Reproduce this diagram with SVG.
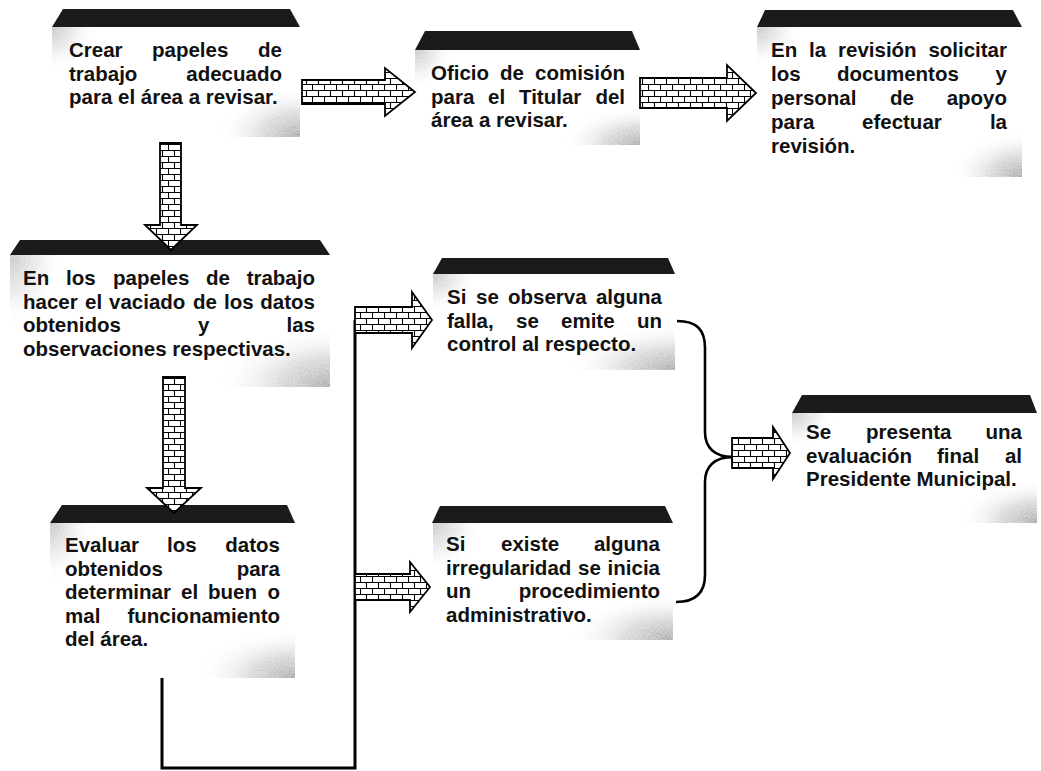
<svg xmlns="http://www.w3.org/2000/svg" width="1041" height="771" viewBox="0 0 1041 771">
  <style>
    .t { font-family: "Liberation Sans", Arial, Helvetica, sans-serif; font-weight: bold; font-size: 20.5px; fill: #111; }
    .e { text-anchor: end; }
    .band { fill: #1b1b1b; }
    .tl { fill: url(#fadeTL); filter: url(#grain); }
    .br { fill: url(#fadeBR); filter: url(#grain); }
    .arrow { fill: url(#brick); stroke: #000; stroke-width: 1.8; stroke-linejoin: miter; }
    .wire { fill: none; stroke: #000; stroke-width: 3; }
    .brace { fill: none; stroke: #000; stroke-width: 2.6; }
  </style>
  <defs>
    <pattern id="brick" width="12" height="12" patternUnits="userSpaceOnUse">
      <rect width="12" height="12" fill="#fff"/>
      <path d="M0 0.5H12M0 6.5H12M0.5 0.5V6.5M6.5 6.5V12" stroke="#000" stroke-width="1.1"/>
    </pattern>
    <radialGradient id="fadeTL" cx="0" cy="0" r="1">
      <stop offset="0" stop-color="#9a9a9a" stop-opacity="0.75"/>
      <stop offset="0.5" stop-color="#bdbdbd" stop-opacity="0.4"/>
      <stop offset="1" stop-color="#fff" stop-opacity="0"/>
    </radialGradient>
    <radialGradient id="fadeBR" cx="1" cy="1" r="1">
      <stop offset="0" stop-color="#888" stop-opacity="0.9"/>
      <stop offset="0.45" stop-color="#aaa" stop-opacity="0.55"/>
      <stop offset="1" stop-color="#fff" stop-opacity="0"/>
    </radialGradient>
    <!-- soft speckle for the grey corner shading -->
    <filter id="grain" x="0" y="0" width="1" height="1">
      <feTurbulence type="fractalNoise" baseFrequency="0.75" numOctaves="2" seed="7" result="n"/>
      <feColorMatrix in="n" type="matrix" values="0 0 0 0 0  0 0 0 0 0  0 0 0 0 0  0.9 0 0 0 0.25" result="a"/>
      <feComposite in="SourceGraphic" in2="a" operator="in"/>
    </filter>
  </defs>

  <rect width="1041" height="771" fill="#fff"/>

  <!-- Crear papeles de trabajo -->
  <g id="crear">
    <rect class="tl" x="52" y="27" width="45" height="45"/>
    <rect class="br" x="215" y="85" width="85" height="52"/>
    <path class="band" d="M63,9 H290 L300,27 H52 Z"/>
    <text class="t" y="57"><tspan x="69">Crear</tspan><tspan x="152">papeles</tspan><tspan class="e" x="282">de</tspan></text>
    <text class="t" y="80.5"><tspan x="69">trabajo</tspan><tspan class="e" x="282">adecuado</tspan></text>
    <text class="t" x="69" y="104">para el área a revisar.</text>
  </g>

  <!-- Oficio de comisión -->
  <g id="oficio">
    <rect class="tl" x="415" y="50" width="40" height="40"/>
    <rect class="br" x="560" y="105" width="80" height="40"/>
    <path class="band" d="M425,31 H632 L640,50 H415 Z"/>
    <text class="t" y="80"><tspan x="431">Oficio</tspan><tspan x="500">de</tspan><tspan class="e" x="625">comisión</tspan></text>
    <text class="t" y="103.5"><tspan x="431">para</tspan><tspan x="488">el</tspan><tspan x="519">Titular</tspan><tspan class="e" x="625">del</tspan></text>
    <text class="t" x="431" y="127">área a revisar.</text>
  </g>

  <!-- En la revisión solicitar -->
  <g id="revision">
    <rect class="tl" x="757" y="27" width="45" height="40"/>
    <rect class="br" x="950" y="130" width="72" height="47"/>
    <path class="band" d="M765,10 H1013 L1022,27 H757 Z"/>
    <text class="t" y="57"><tspan x="771">En</tspan><tspan x="809">la</tspan><tspan x="838">revisión</tspan><tspan class="e" x="1007">solicitar</tspan></text>
    <text class="t" y="81"><tspan x="771">los</tspan><tspan x="837">documentos</tspan><tspan class="e" x="1007">y</tspan></text>
    <text class="t" y="105"><tspan x="771">personal</tspan><tspan x="890">de</tspan><tspan class="e" x="1007">apoyo</tspan></text>
    <text class="t" y="129"><tspan x="771">para</tspan><tspan x="862">efectuar</tspan><tspan class="e" x="1007">la</tspan></text>
    <text class="t" x="771" y="153">revisión.</text>
  </g>

  <!-- En los papeles de trabajo -->
  <g id="vaciado">
    <rect class="tl" x="10" y="255" width="55" height="75"/>
    <rect class="br" x="215" y="325" width="115" height="62"/>
    <path class="band" d="M20,240 H320 L330,255 H10 Z"/>
    <text class="t" y="285"><tspan x="23">En</tspan><tspan x="66">los</tspan><tspan x="113">papeles</tspan><tspan x="206">de</tspan><tspan class="e" x="315">trabajo</tspan></text>
    <text class="t" y="308.5"><tspan x="23">hacer</tspan><tspan x="85">el</tspan><tspan x="109">vaciado</tspan><tspan x="193">de</tspan><tspan x="224">los</tspan><tspan class="e" x="315">datos</tspan></text>
    <text class="t" y="332"><tspan x="23">obtenidos</tspan><tspan x="198">y</tspan><tspan class="e" x="315">las</tspan></text>
    <text class="t" x="23" y="355.5">observaciones respectivas.</text>
  </g>

  <!-- Evaluar los datos obtenidos -->
  <g id="evaluar">
    <rect class="tl" x="50" y="523" width="45" height="60"/>
    <rect class="br" x="195" y="628" width="100" height="50"/>
    <path class="band" d="M62,505 H287 L295,523 H50 Z"/>
    <text class="t" y="552"><tspan x="65">Evaluar</tspan><tspan x="167">los</tspan><tspan class="e" x="280">datos</tspan></text>
    <text class="t" y="575.5"><tspan x="65">obtenidos</tspan><tspan class="e" x="280">para</tspan></text>
    <text class="t" y="599"><tspan x="65">determinar</tspan><tspan x="181">el</tspan><tspan x="208">buen</tspan><tspan class="e" x="280">o</tspan></text>
    <text class="t" y="622.5"><tspan x="65">mal</tspan><tspan class="e" x="280">funcionamiento</tspan></text>
    <text class="t" x="65" y="646">del área.</text>
  </g>

  <!-- Si se observa alguna falla -->
  <g id="falla">
    <rect class="tl" x="433" y="274" width="45" height="40"/>
    <rect class="br" x="565" y="322" width="110" height="48"/>
    <path class="band" d="M442,258 H668 L675,274 H433 Z"/>
    <text class="t" y="304"><tspan x="447">Si</tspan><tspan x="476">se</tspan><tspan x="508">observa</tspan><tspan class="e" x="662">alguna</tspan></text>
    <text class="t" y="327.5"><tspan x="447">falla,</tspan><tspan x="516">se</tspan><tspan x="561">emite</tspan><tspan class="e" x="662">un</tspan></text>
    <text class="t" x="447" y="351">control al respecto.</text>
  </g>

  <!-- Si existe alguna irregularidad -->
  <g id="irregularidad">
    <rect class="tl" x="433" y="523" width="50" height="50"/>
    <rect class="br" x="565" y="592" width="108" height="48"/>
    <path class="band" d="M440,506 H665 L673,523 H432 Z"/>
    <text class="t" y="551"><tspan x="446">Si</tspan><tspan x="501">existe</tspan><tspan class="e" x="660">alguna</tspan></text>
    <text class="t" y="574.5"><tspan x="446">irregularidad</tspan><tspan x="578">se</tspan><tspan class="e" x="660">inicia</tspan></text>
    <text class="t" y="598"><tspan x="446">un</tspan><tspan class="e" x="660">procedimiento</tspan></text>
    <text class="t" x="446" y="621.5">administrativo.</text>
  </g>

  <!-- Se presenta una evaluación final -->
  <g id="evaluacion">
    <rect class="tl" x="792" y="413" width="45" height="35"/>
    <rect class="br" x="955" y="478" width="82" height="45"/>
    <path class="band" d="M802,395 H1030 L1037,413 H792 Z"/>
    <text class="t" y="439"><tspan x="806">Se</tspan><tspan x="866">presenta</tspan><tspan class="e" x="1022">una</tspan></text>
    <text class="t" y="462.5"><tspan x="806">evaluación</tspan><tspan x="937">final</tspan><tspan class="e" x="1022">al</tspan></text>
    <text class="t" x="806" y="486">Presidente Municipal.</text>
  </g>

  <!-- connectors -->
  <g id="connectors">
    <path class="wire" d="M162,678 V768 H355 V320"/>
    <path class="brace" d="M677,321 C697,321 705,330 705,348 V432 C705,448 715,457 733,457"/>
    <path class="brace" d="M676,602 C696,602 705,592 705,575 V482 C705,466 715,457 733,457"/>
    <path class="arrow" d="M302,80 H385 V68 L415,92 L385,116 V104 H302 Z"/>
    <path class="arrow" d="M640,78 H727 V65 L756,93 L727,121 V108 H640 Z"/>
    <path class="arrow" d="M160,143 H181 V225 H197 L171,250 L145,225 H160 Z"/>
    <path class="arrow" d="M163,377 H185 V488 H201 L174,513 L147,488 H163 Z"/>
    <path class="arrow" d="M355,307 H412 V292 L432,320 L412,348 V333 H355 Z"/>
    <path class="arrow" d="M355,574 H410 V562 L430,587 L410,612 V600 H355 Z"/>
    <path class="arrow" d="M732,438 H773 V427 L790,453 L773,479 V468 H732 Z"/>
  </g>
</svg>
